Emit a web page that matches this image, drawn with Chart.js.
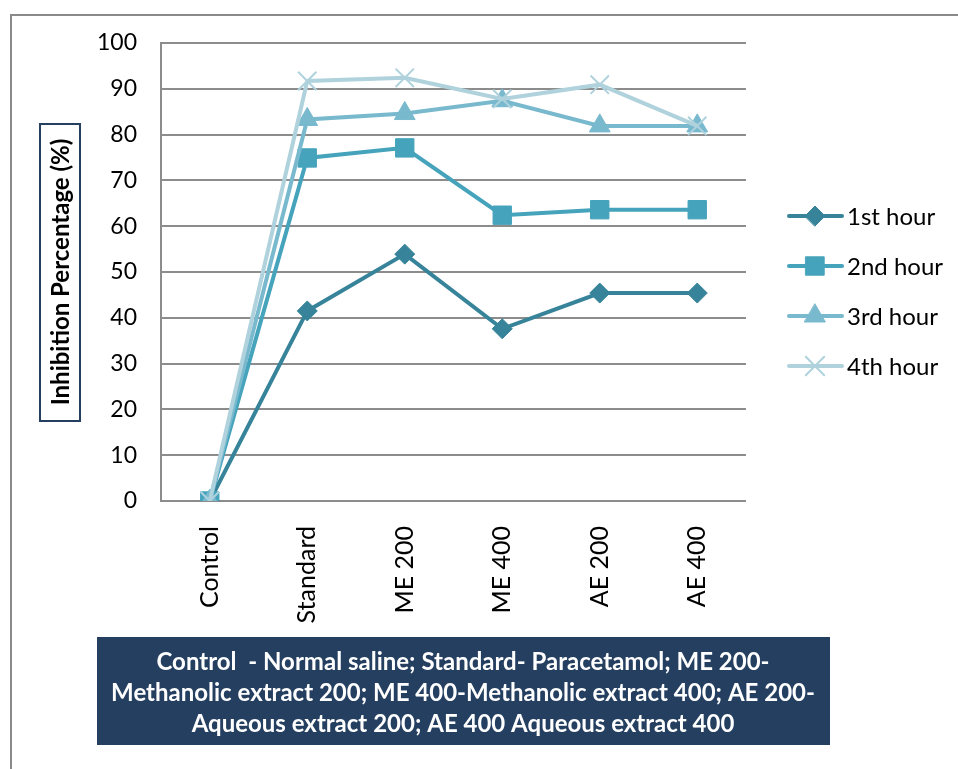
<!DOCTYPE html>
<html>
<head>
<meta charset="utf-8">
<style>
  html, body { margin: 0; padding: 0; background: #ffffff; }
  #wrap { width: 958px; height: 769px; position: relative; }
</style>
<script src="https://cdn.jsdelivr.net/npm/chart.js@4.4.1/dist/chart.umd.min.js"></script>
</head>
<body>
<div id="wrap"><canvas id="chart" width="958" height="769"></canvas></div>
<script>
// Groups and inhibition values (%) at each hour
const categories = ['Control', 'Standard', 'ME 200', 'ME 400', 'AE 200', 'AE 400'];
const hour1 = [0, 41.5, 53.9, 37.6, 45.4, 45.4];
const hour2 = [0, 74.9, 77.1, 62.4, 63.6, 63.6];
const hour3 = [0, 83.3, 84.6, 87.4, 81.9, 81.9];
const hour4 = [0, 91.7, 92.4, 87.8, 90.9, 81.9];
const seriesNames = ['1st hour', '2nd hour', '3rd hour', '4th hour'];
const yTicks = [0, 10, 20, 30, 40, 50, 60, 70, 80, 90, 100];
const axisTitle = 'Inhibition Percentage (%)';
const noteLines = [
  'Control  - Normal saline; Standard- Paracetamol; ME 200-',
  'Methanolic extract 200; ME 400-Methanolic extract 400; AE 200-',
  'Aqueous extract 200; AE 400 Aqueous extract 400'
];

const FONT = 'Lato, "Open Sans", "Noto Sans", sans-serif';
const colors = ['#37849A', '#46A3BC', '#79B9CE', '#AFD2DD'];
const styles = ['rectRot', 'rect', 'triangle', 'crossRot'];
const radii = [10, 13, 12, 13];

function makeSet(i, data) {
  return {
    label: seriesNames[i],
    data: data,
    borderColor: colors[i],
    backgroundColor: colors[i],
    borderWidth: 4,
    pointStyle: styles[i],
    pointRadius: radii[i],
    pointHoverRadius: radii[i],
    pointBackgroundColor: colors[i],
    pointBorderColor: colors[i],
    pointBorderWidth: styles[i] === 'crossRot' ? 2 : 1,
    tension: 0,
    order: 3 - i
  };
}

// Frame, axis title box, note box and legend
const decorations = {
  id: 'decorations',
  beforeDraw(chart) {
    const ctx = chart.ctx;
    ctx.save();
    ctx.fillStyle = '#ffffff';
    ctx.fillRect(0, 0, chart.width, chart.height);
    ctx.strokeStyle = '#8a8a8a';
    ctx.lineWidth = 2;
    ctx.strokeRect(11, 15, 980, 800);
    ctx.restore();
  },
  afterDraw(chart) {
    const ctx = chart.ctx;
    ctx.save();
    // rotated axis title in a framed box
    ctx.strokeStyle = '#243F60';
    ctx.lineWidth = 2;
    ctx.strokeRect(40, 124, 40, 297);
    ctx.translate(61, 272);
    ctx.rotate(-Math.PI / 2);
    ctx.fillStyle = '#000000';
    ctx.font = 'bold 24px ' + FONT;
    ctx.textAlign = 'center';
    ctx.textBaseline = 'middle';
    ctx.fillText(axisTitle, 0, 0);
    ctx.restore();

    // note box below the chart
    ctx.save();
    ctx.fillStyle = '#243F60';
    ctx.fillRect(97, 637, 733, 108);
    ctx.fillStyle = '#ffffff';
    ctx.font = 'bold 24px ' + FONT;
    ctx.textAlign = 'center';
    ctx.textBaseline = 'middle';
    noteLines.forEach((t, k) => ctx.fillText(t, 463, 662 + k * 31));
    ctx.restore();

    // legend
    ctx.save();
    chart.data.datasets.forEach((ds, i) => {
      const y = 216 + i * 50;
      ctx.strokeStyle = ds.borderColor;
      ctx.lineWidth = 4;
      ctx.lineCap = 'round';
      ctx.beginPath();
      ctx.moveTo(789, y);
      ctx.lineTo(842, y);
      ctx.stroke();
      ctx.fillStyle = ds.backgroundColor;
      ctx.lineWidth = ds.pointBorderWidth;
      Chart.helpers.drawPoint(ctx, { pointStyle: ds.pointStyle, radius: ds.pointRadius, borderWidth: ds.pointBorderWidth, rotation: 0 }, 815, y);
      ctx.fillStyle = '#000000';
      ctx.font = '24px ' + FONT;
      ctx.textAlign = 'left';
      ctx.textBaseline = 'middle';
      ctx.fillText(ds.label, 847, y + 1);
    });
    ctx.restore();
  }
};

new Chart(document.getElementById('chart'), {
  type: 'line',
  data: {
    labels: categories,
    datasets: [makeSet(0, hour1), makeSet(1, hour2), makeSet(2, hour3), makeSet(3, hour4)]
  },
  options: {
    responsive: false,
    animation: false,
    layout: { padding: { left: 0, right: 212, top: 43, bottom: 0 } },
    plugins: { legend: { display: false }, tooltip: { enabled: false } },
    scales: {
      x: {
        offset: true,
        grid: { display: false, drawTicks: false },
        border: { display: false },
        ticks: {
          color: '#000000',
          font: { family: FONT, size: 25 },
          maxRotation: 90,
          minRotation: 90,
          padding: 25
        },
        afterFit(scale) { scale.height = 268; }
      },
      y: {
        min: 0,
        max: 100,
        afterBuildTicks(scale) { scale.ticks = yTicks.map(v => ({ value: v })); },
        grid: { color: '#8c8c8c', lineWidth: 2, drawTicks: false },
        border: { display: true, color: '#8c8c8c', width: 2 },
        ticks: {
          color: '#000000',
          font: { family: FONT, size: 23 },
          padding: 24
        },
        afterFit(scale) { scale.width = 161; }
      }
    }
  },
  plugins: [decorations]
});
</script>
</body>
</html>
